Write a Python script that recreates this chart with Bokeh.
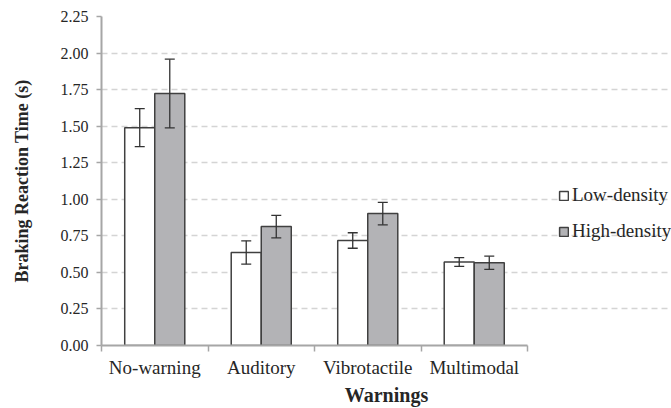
import numpy as np
from bokeh.plotting import figure
from bokeh.models import (ColumnDataSource, Whisker, FixedTicker, Legend, LegendItem,
                          Range1d)
from bokeh.embed import file_html
from bokeh.resources import INLINE

categories = ["No-warning", "Auditory", "Vibrotactile", "Multimodal"]
low_density = [1.49, 0.636, 0.718, 0.571]
low_err = [0.13, 0.08, 0.053, 0.03]
high_density = [1.723, 0.813, 0.902, 0.566]
high_err = [0.235, 0.077, 0.077, 0.045]
y_ticks = [0.0, 0.25, 0.5, 0.75, 1.0, 1.25, 1.5, 1.75, 2.0, 2.25]

n = len(categories)
centers = np.arange(n) + 0.5
bw = 0.282
off = bw / 2

low = np.array(low_density)
lo_e = np.array(low_err)
high = np.array(high_density)
hi_e = np.array(high_err)

src_low = ColumnDataSource(dict(x=centers - off, top=low, upper=low + lo_e, lower=low - lo_e))
src_high = ColumnDataSource(dict(x=centers + off, top=high, upper=high + hi_e, lower=high - hi_e))

FONT = "Liberation Serif"
TXT = "#262626"
AX = "#a6a6a6"

W, H = 671, 408
LEFT, TOP, BOTTOM = 101, 16, 62
PLOT_W = 426  # pixel width of the category area; frame extends to the right for the legend
frame_w = W - LEFT

p = figure(width=W, height=H, output_backend="svg", toolbar_location=None,
           x_range=Range1d(0, n * frame_w / PLOT_W), y_range=Range1d(0, 2.25),
           min_border_left=LEFT, min_border_right=0, min_border_top=TOP,
           min_border_bottom=BOTTOM)
p.outline_line_color = None
p.background_fill_color = "white"
p.border_fill_color = "white"

r_low = p.vbar(x="x", top="top", width=bw, source=src_low, fill_color="white",
               line_color="#404040", line_width=1.5)
r_high = p.vbar(x="x", top="top", width=bw, source=src_high, fill_color="#b3b3b6",
                line_color="#404040", line_width=1.5)

for s in (src_low, src_high):
    w = Whisker(source=s, base="x", upper="upper", lower="lower", dimension="height",
                line_color="#333333", line_width=1.3, level="overlay")
    w.upper_head.size = 10
    w.lower_head.size = 10
    w.upper_head.line_color = "#333333"
    w.lower_head.line_color = "#333333"
    w.upper_head.line_width = 1.3
    w.lower_head.line_width = 1.3
    p.add_layout(w)

# x axis: labels at category centers, ticks at category boundaries
p.xaxis.bounds = (0, n)
p.xaxis.ticker = FixedTicker(ticks=list(centers), minor_ticks=list(np.arange(n + 1)))
p.xaxis.major_label_overrides = {float(c): lab for c, lab in zip(centers, categories)}
p.xaxis.major_tick_line_color = None
p.xaxis.minor_tick_line_color = AX
p.xaxis.minor_tick_line_width = 1.5
p.xaxis.minor_tick_out = 6
p.xaxis.minor_tick_in = 0
p.xaxis.axis_line_color = AX
p.xaxis.axis_line_width = 2
p.xaxis.major_label_text_font = FONT
p.xaxis.major_label_text_font_size = "19px"
p.xaxis.major_label_text_color = TXT
p.xaxis.major_label_standoff = 5
p.xaxis.axis_label = "Warnings"
p.xaxis.axis_label_text_font = FONT
p.xaxis.axis_label_text_font_size = "20px"
p.xaxis.axis_label_text_font_style = "bold"
p.xaxis.axis_label_text_color = TXT
p.xaxis.axis_label_standoff = 3

p.yaxis.ticker = FixedTicker(ticks=y_ticks)
p.yaxis.major_label_overrides = {t: f"{t:.2f}" for t in y_ticks}
p.yaxis.minor_tick_line_color = None
p.yaxis.major_tick_line_color = AX
p.yaxis.major_tick_line_width = 1.5
p.yaxis.major_tick_out = 5
p.yaxis.major_tick_in = 0
p.yaxis.axis_line_color = AX
p.yaxis.axis_line_width = 2
p.yaxis.major_label_text_font = FONT
p.yaxis.major_label_text_font_size = "16px"
p.yaxis.major_label_text_color = TXT
p.yaxis.major_label_standoff = 8
p.yaxis.axis_label = "Braking Reaction Time (s)"
p.yaxis.axis_label_text_font = FONT
p.yaxis.axis_label_text_font_size = "18px"
p.yaxis.axis_label_text_font_style = "bold"
p.yaxis.axis_label_text_color = TXT
p.yaxis.axis_label_standoff = 26

p.xgrid.grid_line_color = None
p.ygrid.grid_line_color = "#d4d4d4"
p.ygrid.grid_line_width = 1.3
p.ygrid.grid_line_dash = "6 4"
p.ygrid.bounds = (0, n)

legend = Legend(items=[LegendItem(label="Low-density", renderers=[r_low]),
                       LegendItem(label="High-density", renderers=[r_high])],
                location=(457, 103), orientation="vertical",
                glyph_width=11, glyph_height=11, label_standoff=3, spacing=14,
                padding=0, margin=0, border_line_color=None, background_fill_alpha=0,
                label_text_font=FONT, label_text_font_size="19px", label_text_color=TXT)
p.add_layout(legend, "center")

open("out.html", "w").write(file_html(p, INLINE))
